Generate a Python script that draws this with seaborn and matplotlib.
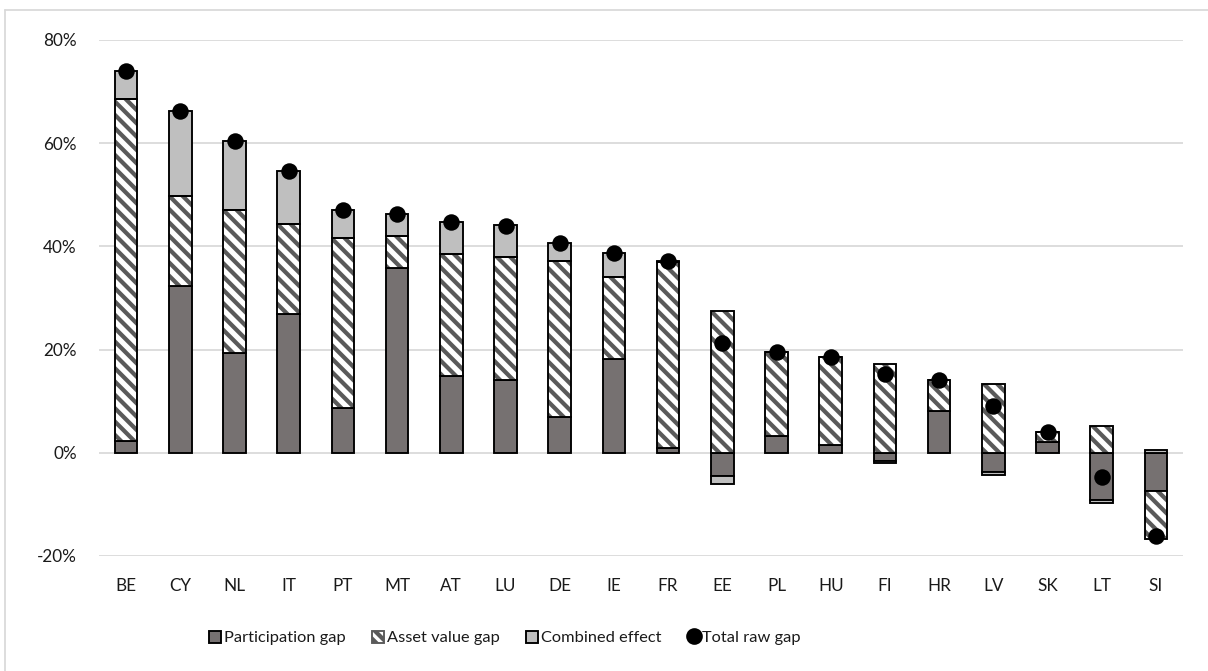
import matplotlib
matplotlib.use("Agg")
import matplotlib.pyplot as plt
from matplotlib.patches import Patch
from matplotlib.lines import Line2D
import numpy as np
import pandas as pd
import seaborn as sns

countries = ["BE", "CY", "NL", "IT", "PT", "MT", "AT", "LU", "DE", "IE",
             "FR", "EE", "PL", "HU", "FI", "HR", "LV", "SK", "LT", "SI"]
participation = [2.2, 32.4, 19.3, 26.9, 8.6, 35.8, 14.8, 14.1, 7.0, 18.1,
                 1.0, -4.4, 3.2, 1.5, -1.5, 8.1, -3.8, 2.0, -9.2, -7.5]
asset_value = [66.3, 17.4, 27.7, 17.4, 33.1, 6.2, 23.7, 23.9, 30.2, 15.9,
               36.0, 27.5, 16.3, 17.0, 17.2, 6.0, 13.3, 2.1, 5.1, -9.2]
combined = [5.5, 16.5, 13.5, 10.4, 5.4, 4.3, 6.2, 6.1, 3.5, 4.7,
            0.1, -1.7, 0.0, 0.1, -0.4, 0.1, -0.5, 0.0, -0.5, 0.6]
total_gap = [74.0, 66.3, 60.4, 54.6, 47.1, 46.2, 44.7, 44.0, 40.6, 38.7,
             37.1, 21.3, 19.5, 18.6, 15.2, 14.2, 9.0, 4.1, -4.7, -16.1]
yticks = [-20, 0, 20, 40, 60, 80]
ytick_labels = ["-20%", "0%", "20%", "40%", "60%", "80%"]

DPI = 160
W, H = 1208, 671
sns.set_theme(style="white")
plt.rcParams["font.family"] = ["Lato", "DejaVu Sans"]
plt.rcParams["hatch.linewidth"] = 1.9

fig = plt.figure(figsize=(W / DPI, H / DPI), dpi=DPI)
ax = fig.add_axes([99 / W, 1 - 556 / H, (1183 - 99) / W, (556 - 40) / H])

df = pd.DataFrame({"country": countries, "participation": participation,
                   "asset": asset_value, "combined": combined, "total": total_gap})

dark = "#767171"
light = "#BFBFBF"
hatch_col = "#5a5a5a"
edge = "black"
lw = 0.85
bw = 0.42
HATCH = "\\" * 4

# Layer 1: participation (from zero)
sns.barplot(data=df, x="country", y="participation", color=dark, width=bw,
            edgecolor=edge, linewidth=lw, saturation=1, errorbar=None, ax=ax, zorder=3)

x = np.arange(len(countries))
pos = np.zeros(len(countries))
neg = np.zeros(len(countries))
p = np.array(participation)
pos += np.where(p > 0, p, 0)
neg += np.where(p < 0, p, 0)

a = np.array(asset_value)
a_bottom = np.where(a >= 0, pos, neg)
ax.bar(x, a, bottom=a_bottom, width=bw, color="white", edgecolor=hatch_col,
       hatch=HATCH, linewidth=0, zorder=3)
ax.bar(x, a, bottom=a_bottom, width=bw, color="none", edgecolor=edge,
       linewidth=lw, zorder=4)
pos += np.where(a > 0, a, 0)
neg += np.where(a < 0, a, 0)

c = np.array(combined)
c_bottom = np.where(c >= 0, pos, neg)
ax.bar(x, c, bottom=c_bottom, width=bw, color=light, edgecolor=edge,
       linewidth=lw, zorder=3)

sns.scatterplot(data=df, x="country", y="total", color="black", s=55,
                edgecolor="black", linewidth=0, ax=ax, zorder=6, legend=False)

ax.set_ylim(-20, 80)
ax.set_xlim(-0.5, len(countries) - 0.5)
ax.set_yticks(yticks)
ax.set_yticklabels(ytick_labels)
ax.yaxis.grid(True, color="#D9D9D9", linewidth=0.8, zorder=0)
ax.set_axisbelow(True)
for s in ax.spines.values():
    s.set_visible(False)
ax.tick_params(axis="both", length=0, labelsize=7.7, colors="#1a1a1a")
ax.tick_params(axis="y", pad=10)
ax.tick_params(axis="x", pad=10)
ax.set_xlabel("")
ax.set_ylabel("")

handles = [
    Patch(facecolor=dark, edgecolor=edge, linewidth=lw),
    Patch(facecolor="white", edgecolor=hatch_col, hatch="\\" * 5, linewidth=lw),
    Patch(facecolor=light, edgecolor=edge, linewidth=lw),
    Line2D([], [], marker="o", color="black", linestyle="none", markersize=6.5),
]
labels = ["Participation gap", "Asset value gap", "Combined effect", "Total raw gap"]
fig.legend(handles, labels, loc="center", bbox_to_anchor=(505 / W, 1 - 638 / H),
           ncol=4, frameon=False, fontsize=7.4, handlelength=0.75, handleheight=0.75,
           handletextpad=0.15, columnspacing=1.6, labelcolor="#1a1a1a")

# figure frame (Excel chart area border)
fig.add_artist(Line2D([4.5 / W, 1], [1 - 9.5 / H, 1 - 9.5 / H], color="#D9D9D9",
                      linewidth=0.8, transform=fig.transFigure))
fig.add_artist(Line2D([4.5 / W, 4.5 / W], [0, 1 - 9.5 / H], color="#D9D9D9",
                      linewidth=0.8, transform=fig.transFigure))

fig.savefig("out.png", dpi=DPI)
